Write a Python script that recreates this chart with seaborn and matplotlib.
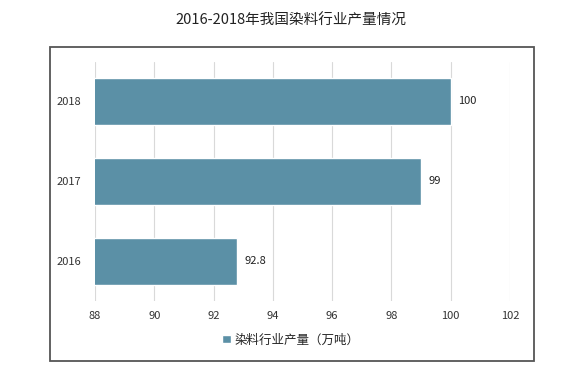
import pandas as pd
import seaborn as sns
import matplotlib.pyplot as plt
from matplotlib.patches import Rectangle, Patch

# data
years = ['2018', '2017', '2016']
output = [100, 99, 92.8]
series_name = '染料行业产量（万吨）'
title = '2016-2018年我国染料行业产量情况'

bar_color = '#5B90A6'

sns.set_style('white')
plt.rcParams['font.family'] = ['Noto Sans CJK SC', 'DejaVu Sans']

df = pd.DataFrame({'year': years, 'value': output})

fig = plt.figure(figsize=(5.81, 3.82), dpi=100)
ax = fig.add_axes([0.1635, 0.212, 0.7143, 0.627])

sns.barplot(data=df, x='value', y='year', order=years, color=bar_color,
            width=0.59, saturation=1, ax=ax)

ax.set_xlim(88, 102)
ax.set_ylim(2.5, -0.5)
ax.set_xticks(range(88, 103, 2))
ax.xaxis.grid(True, color='#D9D9D9', linewidth=0.8)
ax.set_axisbelow(True)
for s in ax.spines.values():
    s.set_visible(False)
ax.tick_params(axis='both', length=0, labelsize=8, colors='#333333')
ax.tick_params(axis='x', pad=7)
ax.tick_params(axis='y', pad=10)
ax.set_xlabel('')
ax.set_ylabel('')

# value labels
for i, v in enumerate(output):
    ax.text(v + 0.25, i, f'{v:g}', va='center', ha='left', fontsize=8, color='#222222')

fig.text(0.5, 0.947, title, ha='center', va='center', fontsize=10.5, color='#222222')

fig.legend(handles=[Patch(facecolor=bar_color, label=series_name)],
           loc='center', bbox_to_anchor=(0.5, 0.11), frameon=False,
           fontsize=9, handlelength=0.7, handleheight=0.7, handletextpad=0.3)

# outer frame of the chart area
fig.patches.append(Rectangle((0.086, 0.055), 0.833, 0.822, transform=fig.transFigure,
                             fill=False, edgecolor='#555555', linewidth=1.3))

fig.savefig('out.png', dpi=100)
